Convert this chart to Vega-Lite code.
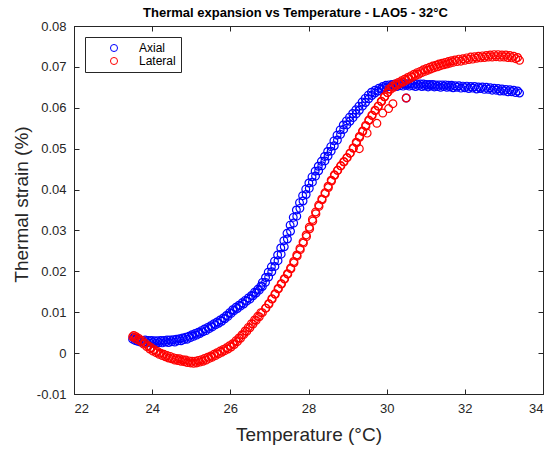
{
  "$schema": "https://vega.github.io/schema/vega-lite/v6.json",
  "width": 469,
  "height": 368,
  "autosize": {"type": "none"},
  "padding": {"left": 74, "top": 26, "right": 6, "bottom": 57},
  "background": "white",
  "title": {"text": "Thermal expansion vs Temperature - LAO5 - 32°C", "font": "Liberation Sans", "fontSize": 13, "fontWeight": "bold", "color": "#000000", "offset": 0, "dx": -13},
  "config": {
    "view": {"stroke": "#262626", "strokeWidth": 1},
    "axis": {"grid": false, "domainColor": "#262626", "tickColor": "#262626", "labelFont": "Liberation Sans", "labelFontSize": 13, "labelColor": "#262626", "titleFont": "Liberation Sans", "titleFontSize": 19, "titleFontWeight": "normal", "titleColor": "#262626", "tickSize": -5}
  },
  "data": {"values": [
    {"temp": 23.50, "strain": 0.0034, "series": "Axial"},
    {"temp": 23.56, "strain": 0.0031, "series": "Axial"},
    {"temp": 23.63, "strain": 0.0029, "series": "Axial"},
    {"temp": 23.70, "strain": 0.0027, "series": "Axial"},
    {"temp": 23.78, "strain": 0.0026, "series": "Axial"},
    {"temp": 23.86, "strain": 0.0027, "series": "Axial"},
    {"temp": 23.94, "strain": 0.0025, "series": "Axial"},
    {"temp": 24.02, "strain": 0.0026, "series": "Axial"},
    {"temp": 24.10, "strain": 0.0024, "series": "Axial"},
    {"temp": 24.18, "strain": 0.0026, "series": "Axial"},
    {"temp": 24.26, "strain": 0.0025, "series": "Axial"},
    {"temp": 24.34, "strain": 0.0027, "series": "Axial"},
    {"temp": 24.42, "strain": 0.0026, "series": "Axial"},
    {"temp": 24.50, "strain": 0.0028, "series": "Axial"},
    {"temp": 24.58, "strain": 0.0027, "series": "Axial"},
    {"temp": 24.66, "strain": 0.0030, "series": "Axial"},
    {"temp": 24.74, "strain": 0.0030, "series": "Axial"},
    {"temp": 24.82, "strain": 0.0033, "series": "Axial"},
    {"temp": 24.90, "strain": 0.0034, "series": "Axial"},
    {"temp": 24.98, "strain": 0.0038, "series": "Axial"},
    {"temp": 25.06, "strain": 0.0041, "series": "Axial"},
    {"temp": 25.14, "strain": 0.0044, "series": "Axial"},
    {"temp": 25.22, "strain": 0.0048, "series": "Axial"},
    {"temp": 25.30, "strain": 0.0052, "series": "Axial"},
    {"temp": 25.38, "strain": 0.0055, "series": "Axial"},
    {"temp": 25.46, "strain": 0.0060, "series": "Axial"},
    {"temp": 25.54, "strain": 0.0064, "series": "Axial"},
    {"temp": 25.62, "strain": 0.0069, "series": "Axial"},
    {"temp": 25.70, "strain": 0.0073, "series": "Axial"},
    {"temp": 25.78, "strain": 0.0078, "series": "Axial"},
    {"temp": 25.86, "strain": 0.0084, "series": "Axial"},
    {"temp": 25.94, "strain": 0.0090, "series": "Axial"},
    {"temp": 26.02, "strain": 0.0097, "series": "Axial"},
    {"temp": 26.10, "strain": 0.0104, "series": "Axial"},
    {"temp": 26.18, "strain": 0.0109, "series": "Axial"},
    {"temp": 26.26, "strain": 0.0115, "series": "Axial"},
    {"temp": 26.34, "strain": 0.0120, "series": "Axial"},
    {"temp": 26.42, "strain": 0.0127, "series": "Axial"},
    {"temp": 26.50, "strain": 0.0132, "series": "Axial"},
    {"temp": 26.58, "strain": 0.0140, "series": "Axial"},
    {"temp": 26.66, "strain": 0.0147, "series": "Axial"},
    {"temp": 26.74, "strain": 0.0154, "series": "Axial"},
    {"temp": 26.82, "strain": 0.0163, "series": "Axial"},
    {"temp": 26.90, "strain": 0.0173, "series": "Axial"},
    {"temp": 26.98, "strain": 0.0186, "series": "Axial"},
    {"temp": 27.06, "strain": 0.0199, "series": "Axial"},
    {"temp": 27.14, "strain": 0.0212, "series": "Axial"},
    {"temp": 27.22, "strain": 0.0226, "series": "Axial"},
    {"temp": 27.30, "strain": 0.0242, "series": "Axial"},
    {"temp": 27.38, "strain": 0.0260, "series": "Axial"},
    {"temp": 27.46, "strain": 0.0279, "series": "Axial"},
    {"temp": 27.54, "strain": 0.0298, "series": "Axial"},
    {"temp": 27.62, "strain": 0.0318, "series": "Axial"},
    {"temp": 27.70, "strain": 0.0335, "series": "Axial"},
    {"temp": 27.78, "strain": 0.0354, "series": "Axial"},
    {"temp": 27.86, "strain": 0.0372, "series": "Axial"},
    {"temp": 27.94, "strain": 0.0388, "series": "Axial"},
    {"temp": 28.02, "strain": 0.0403, "series": "Axial"},
    {"temp": 28.10, "strain": 0.0418, "series": "Axial"},
    {"temp": 28.18, "strain": 0.0433, "series": "Axial"},
    {"temp": 28.26, "strain": 0.0446, "series": "Axial"},
    {"temp": 28.34, "strain": 0.0458, "series": "Axial"},
    {"temp": 28.42, "strain": 0.0470, "series": "Axial"},
    {"temp": 28.50, "strain": 0.0482, "series": "Axial"},
    {"temp": 28.58, "strain": 0.0494, "series": "Axial"},
    {"temp": 28.66, "strain": 0.0507, "series": "Axial"},
    {"temp": 28.74, "strain": 0.0521, "series": "Axial"},
    {"temp": 28.82, "strain": 0.0535, "series": "Axial"},
    {"temp": 28.90, "strain": 0.0547, "series": "Axial"},
    {"temp": 28.98, "strain": 0.0558, "series": "Axial"},
    {"temp": 29.06, "strain": 0.0567, "series": "Axial"},
    {"temp": 29.14, "strain": 0.0576, "series": "Axial"},
    {"temp": 29.22, "strain": 0.0585, "series": "Axial"},
    {"temp": 29.30, "strain": 0.0594, "series": "Axial"},
    {"temp": 29.38, "strain": 0.0604, "series": "Axial"},
    {"temp": 29.46, "strain": 0.0613, "series": "Axial"},
    {"temp": 29.54, "strain": 0.0622, "series": "Axial"},
    {"temp": 29.62, "strain": 0.0630, "series": "Axial"},
    {"temp": 29.70, "strain": 0.0636, "series": "Axial"},
    {"temp": 29.78, "strain": 0.0641, "series": "Axial"},
    {"temp": 29.86, "strain": 0.0646, "series": "Axial"},
    {"temp": 29.94, "strain": 0.0649, "series": "Axial"},
    {"temp": 30.02, "strain": 0.0651, "series": "Axial"},
    {"temp": 30.10, "strain": 0.0652, "series": "Axial"},
    {"temp": 30.18, "strain": 0.0653, "series": "Axial"},
    {"temp": 30.26, "strain": 0.0652, "series": "Axial"},
    {"temp": 30.34, "strain": 0.0654, "series": "Axial"},
    {"temp": 30.42, "strain": 0.0653, "series": "Axial"},
    {"temp": 30.50, "strain": 0.0655, "series": "Axial"},
    {"temp": 30.50, "strain": 0.0624, "series": "Axial"},
    {"temp": 30.58, "strain": 0.0653, "series": "Axial"},
    {"temp": 30.66, "strain": 0.0654, "series": "Axial"},
    {"temp": 30.74, "strain": 0.0652, "series": "Axial"},
    {"temp": 30.82, "strain": 0.0654, "series": "Axial"},
    {"temp": 30.90, "strain": 0.0652, "series": "Axial"},
    {"temp": 30.98, "strain": 0.0653, "series": "Axial"},
    {"temp": 31.06, "strain": 0.0651, "series": "Axial"},
    {"temp": 31.14, "strain": 0.0653, "series": "Axial"},
    {"temp": 31.22, "strain": 0.0651, "series": "Axial"},
    {"temp": 31.30, "strain": 0.0652, "series": "Axial"},
    {"temp": 31.38, "strain": 0.0650, "series": "Axial"},
    {"temp": 31.46, "strain": 0.0652, "series": "Axial"},
    {"temp": 31.54, "strain": 0.0650, "series": "Axial"},
    {"temp": 31.62, "strain": 0.0651, "series": "Axial"},
    {"temp": 31.70, "strain": 0.0649, "series": "Axial"},
    {"temp": 31.80, "strain": 0.0650, "series": "Axial"},
    {"temp": 31.90, "strain": 0.0648, "series": "Axial"},
    {"temp": 32.00, "strain": 0.0649, "series": "Axial"},
    {"temp": 32.10, "strain": 0.0647, "series": "Axial"},
    {"temp": 32.20, "strain": 0.0648, "series": "Axial"},
    {"temp": 32.30, "strain": 0.0646, "series": "Axial"},
    {"temp": 32.40, "strain": 0.0647, "series": "Axial"},
    {"temp": 32.50, "strain": 0.0645, "series": "Axial"},
    {"temp": 32.60, "strain": 0.0645, "series": "Axial"},
    {"temp": 32.70, "strain": 0.0643, "series": "Axial"},
    {"temp": 32.80, "strain": 0.0643, "series": "Axial"},
    {"temp": 32.90, "strain": 0.0641, "series": "Axial"},
    {"temp": 33.00, "strain": 0.0641, "series": "Axial"},
    {"temp": 33.10, "strain": 0.0639, "series": "Axial"},
    {"temp": 33.20, "strain": 0.0639, "series": "Axial"},
    {"temp": 33.30, "strain": 0.0637, "series": "Axial"},
    {"temp": 33.40, "strain": 0.0636, "series": "Axial"},
    {"temp": 23.53, "strain": 0.0038, "series": "Axial"},
    {"temp": 23.60, "strain": 0.0035, "series": "Axial"},
    {"temp": 23.67, "strain": 0.0033, "series": "Axial"},
    {"temp": 23.74, "strain": 0.0031, "series": "Axial"},
    {"temp": 23.82, "strain": 0.0032, "series": "Axial"},
    {"temp": 23.90, "strain": 0.0031, "series": "Axial"},
    {"temp": 23.98, "strain": 0.0031, "series": "Axial"},
    {"temp": 24.06, "strain": 0.0030, "series": "Axial"},
    {"temp": 24.14, "strain": 0.0030, "series": "Axial"},
    {"temp": 24.22, "strain": 0.0031, "series": "Axial"},
    {"temp": 24.30, "strain": 0.0031, "series": "Axial"},
    {"temp": 24.38, "strain": 0.0032, "series": "Axial"},
    {"temp": 24.46, "strain": 0.0032, "series": "Axial"},
    {"temp": 24.54, "strain": 0.0033, "series": "Axial"},
    {"temp": 24.62, "strain": 0.0034, "series": "Axial"},
    {"temp": 24.70, "strain": 0.0035, "series": "Axial"},
    {"temp": 24.78, "strain": 0.0037, "series": "Axial"},
    {"temp": 24.86, "strain": 0.0039, "series": "Axial"},
    {"temp": 24.94, "strain": 0.0041, "series": "Axial"},
    {"temp": 25.02, "strain": 0.0045, "series": "Axial"},
    {"temp": 25.10, "strain": 0.0048, "series": "Axial"},
    {"temp": 25.18, "strain": 0.0051, "series": "Axial"},
    {"temp": 25.26, "strain": 0.0055, "series": "Axial"},
    {"temp": 25.34, "strain": 0.0059, "series": "Axial"},
    {"temp": 25.42, "strain": 0.0063, "series": "Axial"},
    {"temp": 25.50, "strain": 0.0067, "series": "Axial"},
    {"temp": 25.58, "strain": 0.0072, "series": "Axial"},
    {"temp": 25.66, "strain": 0.0076, "series": "Axial"},
    {"temp": 25.74, "strain": 0.0081, "series": "Axial"},
    {"temp": 25.82, "strain": 0.0086, "series": "Axial"},
    {"temp": 25.90, "strain": 0.0092, "series": "Axial"},
    {"temp": 25.98, "strain": 0.0099, "series": "Axial"},
    {"temp": 26.06, "strain": 0.0106, "series": "Axial"},
    {"temp": 26.14, "strain": 0.0112, "series": "Axial"},
    {"temp": 26.22, "strain": 0.0117, "series": "Axial"},
    {"temp": 26.30, "strain": 0.0123, "series": "Axial"},
    {"temp": 26.38, "strain": 0.0129, "series": "Axial"},
    {"temp": 26.46, "strain": 0.0135, "series": "Axial"},
    {"temp": 26.54, "strain": 0.0141, "series": "Axial"},
    {"temp": 26.62, "strain": 0.0149, "series": "Axial"},
    {"temp": 26.70, "strain": 0.0156, "series": "Axial"},
    {"temp": 26.78, "strain": 0.0164, "series": "Axial"},
    {"temp": 26.82, "strain": 0.0173, "series": "Axial"},
    {"temp": 26.90, "strain": 0.0185, "series": "Axial"},
    {"temp": 26.97, "strain": 0.0198, "series": "Axial"},
    {"temp": 27.05, "strain": 0.0211, "series": "Axial"},
    {"temp": 27.13, "strain": 0.0225, "series": "Axial"},
    {"temp": 27.21, "strain": 0.0240, "series": "Axial"},
    {"temp": 27.29, "strain": 0.0257, "series": "Axial"},
    {"temp": 27.37, "strain": 0.0275, "series": "Axial"},
    {"temp": 27.45, "strain": 0.0293, "series": "Axial"},
    {"temp": 27.53, "strain": 0.0313, "series": "Axial"},
    {"temp": 27.61, "strain": 0.0332, "series": "Axial"},
    {"temp": 27.69, "strain": 0.0350, "series": "Axial"},
    {"temp": 27.77, "strain": 0.0368, "series": "Axial"},
    {"temp": 27.85, "strain": 0.0385, "series": "Axial"},
    {"temp": 27.93, "strain": 0.0401, "series": "Axial"},
    {"temp": 28.01, "strain": 0.0416, "series": "Axial"},
    {"temp": 28.09, "strain": 0.0431, "series": "Axial"},
    {"temp": 28.17, "strain": 0.0445, "series": "Axial"},
    {"temp": 28.25, "strain": 0.0457, "series": "Axial"},
    {"temp": 28.33, "strain": 0.0469, "series": "Axial"},
    {"temp": 28.41, "strain": 0.0481, "series": "Axial"},
    {"temp": 28.49, "strain": 0.0493, "series": "Axial"},
    {"temp": 28.57, "strain": 0.0505, "series": "Axial"},
    {"temp": 28.65, "strain": 0.0519, "series": "Axial"},
    {"temp": 28.73, "strain": 0.0533, "series": "Axial"},
    {"temp": 28.81, "strain": 0.0546, "series": "Axial"},
    {"temp": 28.89, "strain": 0.0558, "series": "Axial"},
    {"temp": 28.97, "strain": 0.0568, "series": "Axial"},
    {"temp": 29.05, "strain": 0.0577, "series": "Axial"},
    {"temp": 29.13, "strain": 0.0586, "series": "Axial"},
    {"temp": 29.21, "strain": 0.0595, "series": "Axial"},
    {"temp": 29.29, "strain": 0.0604, "series": "Axial"},
    {"temp": 29.37, "strain": 0.0614, "series": "Axial"},
    {"temp": 29.45, "strain": 0.0623, "series": "Axial"},
    {"temp": 29.53, "strain": 0.0631, "series": "Axial"},
    {"temp": 29.61, "strain": 0.0638, "series": "Axial"},
    {"temp": 29.70, "strain": 0.0643, "series": "Axial"},
    {"temp": 29.80, "strain": 0.0648, "series": "Axial"},
    {"temp": 29.90, "strain": 0.0652, "series": "Axial"},
    {"temp": 29.98, "strain": 0.0655, "series": "Axial"},
    {"temp": 30.06, "strain": 0.0656, "series": "Axial"},
    {"temp": 30.14, "strain": 0.0657, "series": "Axial"},
    {"temp": 30.22, "strain": 0.0658, "series": "Axial"},
    {"temp": 30.30, "strain": 0.0658, "series": "Axial"},
    {"temp": 30.38, "strain": 0.0659, "series": "Axial"},
    {"temp": 30.46, "strain": 0.0659, "series": "Axial"},
    {"temp": 30.54, "strain": 0.0659, "series": "Axial"},
    {"temp": 30.62, "strain": 0.0659, "series": "Axial"},
    {"temp": 30.70, "strain": 0.0658, "series": "Axial"},
    {"temp": 30.78, "strain": 0.0658, "series": "Axial"},
    {"temp": 30.86, "strain": 0.0658, "series": "Axial"},
    {"temp": 30.94, "strain": 0.0658, "series": "Axial"},
    {"temp": 31.02, "strain": 0.0657, "series": "Axial"},
    {"temp": 31.10, "strain": 0.0657, "series": "Axial"},
    {"temp": 31.18, "strain": 0.0657, "series": "Axial"},
    {"temp": 31.26, "strain": 0.0656, "series": "Axial"},
    {"temp": 31.34, "strain": 0.0656, "series": "Axial"},
    {"temp": 31.42, "strain": 0.0656, "series": "Axial"},
    {"temp": 31.50, "strain": 0.0656, "series": "Axial"},
    {"temp": 31.58, "strain": 0.0655, "series": "Axial"},
    {"temp": 31.66, "strain": 0.0655, "series": "Axial"},
    {"temp": 31.75, "strain": 0.0654, "series": "Axial"},
    {"temp": 31.85, "strain": 0.0654, "series": "Axial"},
    {"temp": 31.95, "strain": 0.0653, "series": "Axial"},
    {"temp": 32.05, "strain": 0.0653, "series": "Axial"},
    {"temp": 32.15, "strain": 0.0652, "series": "Axial"},
    {"temp": 32.25, "strain": 0.0652, "series": "Axial"},
    {"temp": 32.35, "strain": 0.0651, "series": "Axial"},
    {"temp": 32.45, "strain": 0.0651, "series": "Axial"},
    {"temp": 32.55, "strain": 0.0650, "series": "Axial"},
    {"temp": 32.65, "strain": 0.0649, "series": "Axial"},
    {"temp": 32.75, "strain": 0.0648, "series": "Axial"},
    {"temp": 32.85, "strain": 0.0647, "series": "Axial"},
    {"temp": 32.95, "strain": 0.0646, "series": "Axial"},
    {"temp": 33.05, "strain": 0.0645, "series": "Axial"},
    {"temp": 33.15, "strain": 0.0644, "series": "Axial"},
    {"temp": 33.25, "strain": 0.0643, "series": "Axial"},
    {"temp": 33.35, "strain": 0.0641, "series": "Axial"},
    {"temp": 23.50, "strain": 0.0040, "series": "Lateral"},
    {"temp": 23.56, "strain": 0.0036, "series": "Lateral"},
    {"temp": 23.62, "strain": 0.0033, "series": "Lateral"},
    {"temp": 23.70, "strain": 0.0029, "series": "Lateral"},
    {"temp": 23.78, "strain": 0.0022, "series": "Lateral"},
    {"temp": 23.86, "strain": 0.0016, "series": "Lateral"},
    {"temp": 23.94, "strain": 0.0010, "series": "Lateral"},
    {"temp": 24.02, "strain": 0.0005, "series": "Lateral"},
    {"temp": 24.10, "strain": 0.0001, "series": "Lateral"},
    {"temp": 24.18, "strain": -0.0003, "series": "Lateral"},
    {"temp": 24.26, "strain": -0.0006, "series": "Lateral"},
    {"temp": 24.34, "strain": -0.0009, "series": "Lateral"},
    {"temp": 24.42, "strain": -0.0012, "series": "Lateral"},
    {"temp": 24.50, "strain": -0.0014, "series": "Lateral"},
    {"temp": 24.58, "strain": -0.0017, "series": "Lateral"},
    {"temp": 24.66, "strain": -0.0018, "series": "Lateral"},
    {"temp": 24.74, "strain": -0.0020, "series": "Lateral"},
    {"temp": 24.82, "strain": -0.0021, "series": "Lateral"},
    {"temp": 24.90, "strain": -0.0023, "series": "Lateral"},
    {"temp": 24.98, "strain": -0.0024, "series": "Lateral"},
    {"temp": 25.06, "strain": -0.0025, "series": "Lateral"},
    {"temp": 25.14, "strain": -0.0024, "series": "Lateral"},
    {"temp": 25.22, "strain": -0.0022, "series": "Lateral"},
    {"temp": 25.30, "strain": -0.0020, "series": "Lateral"},
    {"temp": 25.38, "strain": -0.0017, "series": "Lateral"},
    {"temp": 25.46, "strain": -0.0013, "series": "Lateral"},
    {"temp": 25.54, "strain": -0.0010, "series": "Lateral"},
    {"temp": 25.62, "strain": -0.0006, "series": "Lateral"},
    {"temp": 25.70, "strain": -0.0002, "series": "Lateral"},
    {"temp": 25.78, "strain": 0.0002, "series": "Lateral"},
    {"temp": 25.86, "strain": 0.0006, "series": "Lateral"},
    {"temp": 25.94, "strain": 0.0010, "series": "Lateral"},
    {"temp": 26.02, "strain": 0.0015, "series": "Lateral"},
    {"temp": 26.10, "strain": 0.0021, "series": "Lateral"},
    {"temp": 26.18, "strain": 0.0028, "series": "Lateral"},
    {"temp": 26.26, "strain": 0.0036, "series": "Lateral"},
    {"temp": 26.34, "strain": 0.0045, "series": "Lateral"},
    {"temp": 26.42, "strain": 0.0053, "series": "Lateral"},
    {"temp": 26.50, "strain": 0.0062, "series": "Lateral"},
    {"temp": 26.58, "strain": 0.0071, "series": "Lateral"},
    {"temp": 26.66, "strain": 0.0080, "series": "Lateral"},
    {"temp": 26.74, "strain": 0.0089, "series": "Lateral"},
    {"temp": 26.82, "strain": 0.0099, "series": "Lateral"},
    {"temp": 26.90, "strain": 0.0110, "series": "Lateral"},
    {"temp": 26.98, "strain": 0.0121, "series": "Lateral"},
    {"temp": 27.06, "strain": 0.0133, "series": "Lateral"},
    {"temp": 27.14, "strain": 0.0145, "series": "Lateral"},
    {"temp": 27.22, "strain": 0.0158, "series": "Lateral"},
    {"temp": 27.30, "strain": 0.0170, "series": "Lateral"},
    {"temp": 27.38, "strain": 0.0182, "series": "Lateral"},
    {"temp": 27.46, "strain": 0.0194, "series": "Lateral"},
    {"temp": 27.54, "strain": 0.0208, "series": "Lateral"},
    {"temp": 27.62, "strain": 0.0224, "series": "Lateral"},
    {"temp": 27.70, "strain": 0.0240, "series": "Lateral"},
    {"temp": 27.78, "strain": 0.0256, "series": "Lateral"},
    {"temp": 27.86, "strain": 0.0272, "series": "Lateral"},
    {"temp": 27.94, "strain": 0.0289, "series": "Lateral"},
    {"temp": 28.02, "strain": 0.0308, "series": "Lateral"},
    {"temp": 28.10, "strain": 0.0327, "series": "Lateral"},
    {"temp": 28.18, "strain": 0.0345, "series": "Lateral"},
    {"temp": 28.26, "strain": 0.0362, "series": "Lateral"},
    {"temp": 28.34, "strain": 0.0377, "series": "Lateral"},
    {"temp": 28.42, "strain": 0.0392, "series": "Lateral"},
    {"temp": 28.50, "strain": 0.0408, "series": "Lateral"},
    {"temp": 28.58, "strain": 0.0423, "series": "Lateral"},
    {"temp": 28.66, "strain": 0.0436, "series": "Lateral"},
    {"temp": 28.74, "strain": 0.0447, "series": "Lateral"},
    {"temp": 28.82, "strain": 0.0458, "series": "Lateral"},
    {"temp": 28.90, "strain": 0.0468, "series": "Lateral"},
    {"temp": 28.98, "strain": 0.0478, "series": "Lateral"},
    {"temp": 29.06, "strain": 0.0489, "series": "Lateral"},
    {"temp": 29.14, "strain": 0.0502, "series": "Lateral"},
    {"temp": 29.22, "strain": 0.0516, "series": "Lateral"},
    {"temp": 29.30, "strain": 0.0530, "series": "Lateral"},
    {"temp": 29.30, "strain": 0.0500, "series": "Lateral"},
    {"temp": 29.38, "strain": 0.0543, "series": "Lateral"},
    {"temp": 29.46, "strain": 0.0557, "series": "Lateral"},
    {"temp": 29.50, "strain": 0.0538, "series": "Lateral"},
    {"temp": 29.54, "strain": 0.0570, "series": "Lateral"},
    {"temp": 29.62, "strain": 0.0582, "series": "Lateral"},
    {"temp": 29.70, "strain": 0.0594, "series": "Lateral"},
    {"temp": 29.75, "strain": 0.0562, "series": "Lateral"},
    {"temp": 29.78, "strain": 0.0604, "series": "Lateral"},
    {"temp": 29.86, "strain": 0.0616, "series": "Lateral"},
    {"temp": 29.90, "strain": 0.0587, "series": "Lateral"},
    {"temp": 29.94, "strain": 0.0627, "series": "Lateral"},
    {"temp": 30.02, "strain": 0.0637, "series": "Lateral"},
    {"temp": 30.05, "strain": 0.0598, "series": "Lateral"},
    {"temp": 30.10, "strain": 0.0645, "series": "Lateral"},
    {"temp": 30.16, "strain": 0.0610, "series": "Lateral"},
    {"temp": 30.18, "strain": 0.0650, "series": "Lateral"},
    {"temp": 30.26, "strain": 0.0655, "series": "Lateral"},
    {"temp": 30.34, "strain": 0.0659, "series": "Lateral"},
    {"temp": 30.42, "strain": 0.0663, "series": "Lateral"},
    {"temp": 30.50, "strain": 0.0667, "series": "Lateral"},
    {"temp": 30.50, "strain": 0.0624, "series": "Lateral"},
    {"temp": 30.58, "strain": 0.0671, "series": "Lateral"},
    {"temp": 30.66, "strain": 0.0675, "series": "Lateral"},
    {"temp": 30.74, "strain": 0.0679, "series": "Lateral"},
    {"temp": 30.82, "strain": 0.0682, "series": "Lateral"},
    {"temp": 30.90, "strain": 0.0686, "series": "Lateral"},
    {"temp": 30.98, "strain": 0.0689, "series": "Lateral"},
    {"temp": 31.06, "strain": 0.0692, "series": "Lateral"},
    {"temp": 31.14, "strain": 0.0695, "series": "Lateral"},
    {"temp": 31.22, "strain": 0.0698, "series": "Lateral"},
    {"temp": 31.30, "strain": 0.0700, "series": "Lateral"},
    {"temp": 31.38, "strain": 0.0703, "series": "Lateral"},
    {"temp": 31.46, "strain": 0.0705, "series": "Lateral"},
    {"temp": 31.54, "strain": 0.0707, "series": "Lateral"},
    {"temp": 31.62, "strain": 0.0709, "series": "Lateral"},
    {"temp": 31.70, "strain": 0.0711, "series": "Lateral"},
    {"temp": 31.80, "strain": 0.0713, "series": "Lateral"},
    {"temp": 31.90, "strain": 0.0714, "series": "Lateral"},
    {"temp": 32.00, "strain": 0.0716, "series": "Lateral"},
    {"temp": 32.10, "strain": 0.0718, "series": "Lateral"},
    {"temp": 32.20, "strain": 0.0719, "series": "Lateral"},
    {"temp": 32.30, "strain": 0.0721, "series": "Lateral"},
    {"temp": 32.40, "strain": 0.0722, "series": "Lateral"},
    {"temp": 32.50, "strain": 0.0723, "series": "Lateral"},
    {"temp": 32.60, "strain": 0.0724, "series": "Lateral"},
    {"temp": 32.70, "strain": 0.0724, "series": "Lateral"},
    {"temp": 32.80, "strain": 0.0725, "series": "Lateral"},
    {"temp": 32.90, "strain": 0.0724, "series": "Lateral"},
    {"temp": 33.00, "strain": 0.0724, "series": "Lateral"},
    {"temp": 33.10, "strain": 0.0723, "series": "Lateral"},
    {"temp": 33.20, "strain": 0.0722, "series": "Lateral"},
    {"temp": 33.30, "strain": 0.0720, "series": "Lateral"},
    {"temp": 33.40, "strain": 0.0716, "series": "Lateral"},
    {"temp": 23.53, "strain": 0.0043, "series": "Lateral"},
    {"temp": 23.59, "strain": 0.0040, "series": "Lateral"},
    {"temp": 23.66, "strain": 0.0036, "series": "Lateral"},
    {"temp": 23.74, "strain": 0.0031, "series": "Lateral"},
    {"temp": 23.82, "strain": 0.0024, "series": "Lateral"},
    {"temp": 23.90, "strain": 0.0018, "series": "Lateral"},
    {"temp": 23.98, "strain": 0.0013, "series": "Lateral"},
    {"temp": 24.06, "strain": 0.0008, "series": "Lateral"},
    {"temp": 24.14, "strain": 0.0004, "series": "Lateral"},
    {"temp": 24.22, "strain": 0.0000, "series": "Lateral"},
    {"temp": 24.30, "strain": -0.0003, "series": "Lateral"},
    {"temp": 24.38, "strain": -0.0006, "series": "Lateral"},
    {"temp": 24.46, "strain": -0.0008, "series": "Lateral"},
    {"temp": 24.54, "strain": -0.0011, "series": "Lateral"},
    {"temp": 24.62, "strain": -0.0013, "series": "Lateral"},
    {"temp": 24.70, "strain": -0.0014, "series": "Lateral"},
    {"temp": 24.78, "strain": -0.0016, "series": "Lateral"},
    {"temp": 24.86, "strain": -0.0017, "series": "Lateral"},
    {"temp": 24.94, "strain": -0.0019, "series": "Lateral"},
    {"temp": 25.02, "strain": -0.0020, "series": "Lateral"},
    {"temp": 25.10, "strain": -0.0020, "series": "Lateral"},
    {"temp": 25.18, "strain": -0.0018, "series": "Lateral"},
    {"temp": 25.26, "strain": -0.0016, "series": "Lateral"},
    {"temp": 25.34, "strain": -0.0013, "series": "Lateral"},
    {"temp": 25.42, "strain": -0.0010, "series": "Lateral"},
    {"temp": 25.50, "strain": -0.0007, "series": "Lateral"},
    {"temp": 25.58, "strain": -0.0003, "series": "Lateral"},
    {"temp": 25.66, "strain": 0.0001, "series": "Lateral"},
    {"temp": 25.74, "strain": 0.0005, "series": "Lateral"},
    {"temp": 25.82, "strain": 0.0009, "series": "Lateral"},
    {"temp": 25.90, "strain": 0.0013, "series": "Lateral"},
    {"temp": 25.98, "strain": 0.0018, "series": "Lateral"},
    {"temp": 26.06, "strain": 0.0023, "series": "Lateral"},
    {"temp": 26.14, "strain": 0.0030, "series": "Lateral"},
    {"temp": 26.22, "strain": 0.0037, "series": "Lateral"},
    {"temp": 26.30, "strain": 0.0045, "series": "Lateral"},
    {"temp": 26.38, "strain": 0.0054, "series": "Lateral"},
    {"temp": 26.46, "strain": 0.0063, "series": "Lateral"},
    {"temp": 26.54, "strain": 0.0072, "series": "Lateral"},
    {"temp": 26.62, "strain": 0.0081, "series": "Lateral"},
    {"temp": 26.70, "strain": 0.0090, "series": "Lateral"},
    {"temp": 26.78, "strain": 0.0099, "series": "Lateral"},
    {"temp": 26.91, "strain": 0.0110, "series": "Lateral"},
    {"temp": 26.99, "strain": 0.0120, "series": "Lateral"},
    {"temp": 27.07, "strain": 0.0132, "series": "Lateral"},
    {"temp": 27.15, "strain": 0.0144, "series": "Lateral"},
    {"temp": 27.23, "strain": 0.0157, "series": "Lateral"},
    {"temp": 27.31, "strain": 0.0169, "series": "Lateral"},
    {"temp": 27.39, "strain": 0.0181, "series": "Lateral"},
    {"temp": 27.47, "strain": 0.0193, "series": "Lateral"},
    {"temp": 27.55, "strain": 0.0206, "series": "Lateral"},
    {"temp": 27.63, "strain": 0.0221, "series": "Lateral"},
    {"temp": 27.71, "strain": 0.0237, "series": "Lateral"},
    {"temp": 27.79, "strain": 0.0253, "series": "Lateral"},
    {"temp": 27.87, "strain": 0.0269, "series": "Lateral"},
    {"temp": 27.95, "strain": 0.0285, "series": "Lateral"},
    {"temp": 28.03, "strain": 0.0304, "series": "Lateral"},
    {"temp": 28.11, "strain": 0.0323, "series": "Lateral"},
    {"temp": 28.19, "strain": 0.0341, "series": "Lateral"},
    {"temp": 28.27, "strain": 0.0359, "series": "Lateral"},
    {"temp": 28.35, "strain": 0.0375, "series": "Lateral"},
    {"temp": 28.43, "strain": 0.0390, "series": "Lateral"},
    {"temp": 28.51, "strain": 0.0405, "series": "Lateral"},
    {"temp": 28.59, "strain": 0.0421, "series": "Lateral"},
    {"temp": 28.67, "strain": 0.0435, "series": "Lateral"},
    {"temp": 28.75, "strain": 0.0447, "series": "Lateral"},
    {"temp": 28.83, "strain": 0.0458, "series": "Lateral"},
    {"temp": 28.91, "strain": 0.0468, "series": "Lateral"},
    {"temp": 28.99, "strain": 0.0478, "series": "Lateral"},
    {"temp": 29.07, "strain": 0.0489, "series": "Lateral"},
    {"temp": 29.15, "strain": 0.0501, "series": "Lateral"},
    {"temp": 29.23, "strain": 0.0514, "series": "Lateral"},
    {"temp": 29.31, "strain": 0.0528, "series": "Lateral"},
    {"temp": 29.39, "strain": 0.0542, "series": "Lateral"},
    {"temp": 29.47, "strain": 0.0555, "series": "Lateral"},
    {"temp": 29.55, "strain": 0.0569, "series": "Lateral"},
    {"temp": 29.63, "strain": 0.0581, "series": "Lateral"},
    {"temp": 29.71, "strain": 0.0593, "series": "Lateral"},
    {"temp": 29.79, "strain": 0.0604, "series": "Lateral"},
    {"temp": 29.87, "strain": 0.0615, "series": "Lateral"},
    {"temp": 29.95, "strain": 0.0627, "series": "Lateral"},
    {"temp": 30.02, "strain": 0.0637, "series": "Lateral"},
    {"temp": 30.06, "strain": 0.0646, "series": "Lateral"},
    {"temp": 30.14, "strain": 0.0653, "series": "Lateral"},
    {"temp": 30.22, "strain": 0.0658, "series": "Lateral"},
    {"temp": 30.30, "strain": 0.0662, "series": "Lateral"},
    {"temp": 30.38, "strain": 0.0666, "series": "Lateral"},
    {"temp": 30.46, "strain": 0.0670, "series": "Lateral"},
    {"temp": 30.54, "strain": 0.0674, "series": "Lateral"},
    {"temp": 30.62, "strain": 0.0678, "series": "Lateral"},
    {"temp": 30.70, "strain": 0.0682, "series": "Lateral"},
    {"temp": 30.78, "strain": 0.0686, "series": "Lateral"},
    {"temp": 30.86, "strain": 0.0689, "series": "Lateral"},
    {"temp": 30.94, "strain": 0.0693, "series": "Lateral"},
    {"temp": 31.02, "strain": 0.0696, "series": "Lateral"},
    {"temp": 31.10, "strain": 0.0699, "series": "Lateral"},
    {"temp": 31.18, "strain": 0.0702, "series": "Lateral"},
    {"temp": 31.26, "strain": 0.0704, "series": "Lateral"},
    {"temp": 31.34, "strain": 0.0707, "series": "Lateral"},
    {"temp": 31.42, "strain": 0.0709, "series": "Lateral"},
    {"temp": 31.50, "strain": 0.0711, "series": "Lateral"},
    {"temp": 31.58, "strain": 0.0713, "series": "Lateral"},
    {"temp": 31.66, "strain": 0.0715, "series": "Lateral"},
    {"temp": 31.75, "strain": 0.0717, "series": "Lateral"},
    {"temp": 31.85, "strain": 0.0719, "series": "Lateral"},
    {"temp": 31.95, "strain": 0.0720, "series": "Lateral"},
    {"temp": 32.05, "strain": 0.0722, "series": "Lateral"},
    {"temp": 32.15, "strain": 0.0724, "series": "Lateral"},
    {"temp": 32.25, "strain": 0.0725, "series": "Lateral"},
    {"temp": 32.35, "strain": 0.0726, "series": "Lateral"},
    {"temp": 32.45, "strain": 0.0727, "series": "Lateral"},
    {"temp": 32.55, "strain": 0.0728, "series": "Lateral"},
    {"temp": 32.65, "strain": 0.0729, "series": "Lateral"},
    {"temp": 32.75, "strain": 0.0730, "series": "Lateral"},
    {"temp": 32.85, "strain": 0.0730, "series": "Lateral"},
    {"temp": 32.95, "strain": 0.0729, "series": "Lateral"},
    {"temp": 33.05, "strain": 0.0729, "series": "Lateral"},
    {"temp": 33.15, "strain": 0.0728, "series": "Lateral"},
    {"temp": 33.25, "strain": 0.0726, "series": "Lateral"},
    {"temp": 33.35, "strain": 0.0723, "series": "Lateral"}
  ]},
  "layer": [
    {
      "mark": {"type": "point", "shape": "circle", "filled": false, "size": 60, "strokeWidth": 1.2, "opacity": 1},
      "encoding": {
        "x": {"field": "temp", "type": "quantitative", "scale": {"domain": [22, 34], "nice": false, "zero": false},
          "axis": {"orient": "bottom", "values": [22, 24, 26, 28, 30, 32, 34], "title": "Temperature (°C)", "labelPadding": 13, "titleY": 31, "titleBaseline": "top"}},
        "y": {"field": "strain", "type": "quantitative", "scale": {"domain": [-0.01, 0.08], "nice": false, "zero": false},
          "axis": {"orient": "left", "values": [-0.01, 0, 0.01, 0.02, 0.03, 0.04, 0.05, 0.06, 0.07, 0.08], "title": "Thermal strain (%)", "labelPadding": 13,
            "labelExpr": "abs(datum.value) < 1e-9 ? '0' : (datum.value < 0 ? '-' + format(-datum.value, '.2f') : format(datum.value, '.2f'))",
            "titleX": -43, "titleY": 178, "titleBaseline": "bottom"}},
        "color": {"field": "series", "type": "nominal", "scale": {"domain": ["Axial", "Lateral"], "range": ["#0000ff", "#ff0000"]},
          "legend": {"title": null, "orient": "none", "legendX": 11, "legendY": 11, "strokeColor": "#262626", "fillColor": "white", "padding": 5,
            "symbolOffset": 18, "labelOffset": 19, "labelFont": "Liberation Sans", "labelFontSize": 12, "labelColor": "#000000", "symbolSize": 50, "symbolStrokeWidth": 1, "rowPadding": 1}}
      }
    },
    {
      "mark": {"type": "point", "opacity": 0},
      "encoding": {
        "x": {"field": "temp", "type": "quantitative", "scale": {"domain": [22, 34], "nice": false, "zero": false},
          "axis": {"orient": "top", "values": [22, 24, 26, 28, 30, 32, 34], "labels": false, "title": null}},
        "y": {"field": "strain", "type": "quantitative", "scale": {"domain": [-0.01, 0.08], "nice": false, "zero": false},
          "axis": {"orient": "right", "values": [-0.01, 0, 0.01, 0.02, 0.03, 0.04, 0.05, 0.06, 0.07, 0.08], "labels": false, "title": null}}
      }
    }
  ],
  "resolve": {"axis": {"x": "independent", "y": "independent"}}
}
